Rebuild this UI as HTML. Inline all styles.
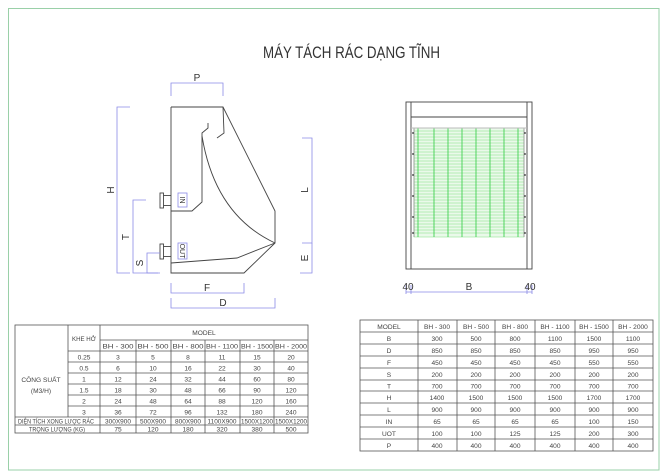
<!DOCTYPE html>
<html><head><meta charset="utf-8"><style>
html,body{margin:0;padding:0;background:#fff}
svg{display:block}
text{font-family:"Liberation Sans",sans-serif;fill:#333}
.t text{font-size:6.6px;text-anchor:middle;fill:#444}
.g{stroke:#555;stroke-width:0.8;fill:none}
.d{stroke:#8a8ae6;stroke-width:0.8;fill:none}
.k{stroke:#444;stroke-width:0.9;fill:none}
</style></head><body>
<svg width="665" height="476" viewBox="0 0 665 476" xmlns="http://www.w3.org/2000/svg">
<rect x="8.5" y="8.5" width="650.5" height="461.5" fill="none" stroke="#9ad0a8" stroke-width="1"/>
<text x="263" y="58" font-size="17" textLength="177" lengthAdjust="spacingAndGlyphs" style="fill:#333">MÁY TÁCH RÁC DẠNG TĨNH</text>

<!-- side view -->
<g class="k">
<polyline points="171,107 223,107 275,211 275,243 244,273 171,273 171,107"/>
<polyline points="223,107 224,133 217,138"/>
<polyline points="208,123 208,128 202,133 202,202 192,211 171,211"/>
<path d="M202,136 Q215,215 275,243"/>
<polyline points="171,263 237,258 275,243"/>
<rect x="160" y="193" width="3.5" height="15"/>
<line x1="163.5" y1="195.5" x2="171" y2="195.5"/><line x1="163.5" y1="205.5" x2="171" y2="205.5"/>
<rect x="160" y="244" width="3.5" height="15"/>
<line x1="163.5" y1="246.5" x2="171" y2="246.5"/><line x1="163.5" y1="256.5" x2="171" y2="256.5"/>
</g>
<g class="d">
<polyline points="171,96 171,83 223,83 223,96"/>
<polyline points="130,107 117,107 117,273 130,273"/>
<polyline points="146,200 133,200 133,273 160,273"/>
<polyline points="160,253 147,253 147,273 158,273"/>
<polyline points="302,138 312,138 312,243 302,243"/>
<polyline points="312,243 312,273 300,273"/>
<polyline points="171,283 171,293 244,293 244,283"/>
<polyline points="171,298 171,308 275,308 275,298"/>
<rect x="178" y="193" width="9" height="14"/>
<rect x="178" y="243" width="9" height="16"/>
</g>
<text x="197" y="81" font-size="10" text-anchor="middle">P</text>
<text x="114" y="190" font-size="10" text-anchor="middle" transform="rotate(-90 114 190)">H</text>
<text x="129" y="237" font-size="10" text-anchor="middle" transform="rotate(-90 129 237)">T</text>
<text x="143" y="263" font-size="10" text-anchor="middle" transform="rotate(-90 143 263)">S</text>
<text x="308" y="190" font-size="10" text-anchor="middle" transform="rotate(-90 308 190)">L</text>
<text x="308" y="258" font-size="10" text-anchor="middle" transform="rotate(-90 308 258)">E</text>
<text x="207" y="291" font-size="10" text-anchor="middle">F</text>
<text x="223" y="306" font-size="10" text-anchor="middle">D</text>
<text x="180" y="200" font-size="7" text-anchor="middle" transform="rotate(90 180 200)">IN</text>
<text x="180" y="251" font-size="7" text-anchor="middle" transform="rotate(90 180 251)">OUT</text>

<!-- front view -->
<g stroke="#7fe07f" stroke-width="0.5">
<rect x="414" y="128" width="110" height="109" fill="#eaf9ea"/>
<line x1="414" y1="131" x2="524" y2="131"/><line x1="414" y1="134" x2="524" y2="134"/><line x1="414" y1="137" x2="524" y2="137"/><line x1="414" y1="140" x2="524" y2="140"/><line x1="414" y1="143" x2="524" y2="143"/><line x1="414" y1="146" x2="524" y2="146"/><line x1="414" y1="149" x2="524" y2="149"/><line x1="414" y1="152" x2="524" y2="152"/><line x1="414" y1="155" x2="524" y2="155"/><line x1="414" y1="158" x2="524" y2="158"/><line x1="414" y1="161" x2="524" y2="161"/><line x1="414" y1="164" x2="524" y2="164"/><line x1="414" y1="167" x2="524" y2="167"/><line x1="414" y1="170" x2="524" y2="170"/><line x1="414" y1="173" x2="524" y2="173"/><line x1="414" y1="176" x2="524" y2="176"/><line x1="414" y1="179" x2="524" y2="179"/><line x1="414" y1="182" x2="524" y2="182"/><line x1="414" y1="185" x2="524" y2="185"/><line x1="414" y1="188" x2="524" y2="188"/><line x1="414" y1="191" x2="524" y2="191"/><line x1="414" y1="194" x2="524" y2="194"/><line x1="414" y1="197" x2="524" y2="197"/><line x1="414" y1="200" x2="524" y2="200"/><line x1="414" y1="203" x2="524" y2="203"/><line x1="414" y1="206" x2="524" y2="206"/><line x1="414" y1="209" x2="524" y2="209"/><line x1="414" y1="212" x2="524" y2="212"/><line x1="414" y1="215" x2="524" y2="215"/><line x1="414" y1="218" x2="524" y2="218"/><line x1="414" y1="221" x2="524" y2="221"/><line x1="414" y1="224" x2="524" y2="224"/><line x1="414" y1="227" x2="524" y2="227"/><line x1="414" y1="230" x2="524" y2="230"/><line x1="414" y1="233" x2="524" y2="233"/>
</g>
<g stroke="#2ecc40" stroke-width="0.8">
<line x1="418" y1="128" x2="418" y2="237"/><line x1="434" y1="128" x2="434" y2="237"/><line x1="448" y1="128" x2="448" y2="237"/><line x1="462" y1="128" x2="462" y2="237"/><line x1="476" y1="128" x2="476" y2="237"/><line x1="490" y1="128" x2="490" y2="237"/><line x1="504" y1="128" x2="504" y2="237"/><line x1="518" y1="128" x2="518" y2="237"/>
</g>
<g class="k">
<rect x="406" y="102" width="126" height="167"/>
<line x1="411" y1="102" x2="411" y2="269"/><line x1="527" y1="102" x2="527" y2="269"/>
<line x1="411" y1="117" x2="527" y2="117"/>
<line x1="414" y1="128" x2="414" y2="237" stroke="#999"/><line x1="524" y1="128" x2="524" y2="237" stroke="#999"/>
</g>
<line x1="411" y1="128" x2="527" y2="128" stroke="#bbb" stroke-width="1"/>
<g fill="#333">
<circle cx="413" cy="133" r="0.9"/><circle cx="413" cy="154" r="0.9"/><circle cx="413" cy="175" r="0.9"/><circle cx="413" cy="196" r="0.9"/><circle cx="413" cy="217" r="0.9"/><circle cx="413" cy="233" r="0.9"/>
<circle cx="525" cy="133" r="0.9"/><circle cx="525" cy="154" r="0.9"/><circle cx="525" cy="175" r="0.9"/><circle cx="525" cy="196" r="0.9"/><circle cx="525" cy="217" r="0.9"/><circle cx="525" cy="233" r="0.9"/>
</g>
<g class="d"><line x1="406" y1="292" x2="532" y2="292"/><line x1="406" y1="285" x2="406" y2="294"/><line x1="411" y1="285" x2="411" y2="294"/><line x1="527" y1="285" x2="527" y2="294"/><line x1="532" y1="285" x2="532" y2="294"/></g>
<text x="408" y="290" font-size="10" text-anchor="middle">40</text>
<text x="469" y="290" font-size="10" text-anchor="middle">B</text>
<text x="530" y="290" font-size="10" text-anchor="middle">40</text>

<!-- left table -->
<g class="g">
<rect x="15" y="325" width="293" height="108"/>
<line x1="100" y1="340" x2="308" y2="340"/>
<line x1="68" y1="351" x2="308" y2="351"/>
<line x1="68" y1="362" x2="308" y2="362"/><line x1="68" y1="373" x2="308" y2="373"/><line x1="68" y1="384" x2="308" y2="384"/><line x1="68" y1="395" x2="308" y2="395"/><line x1="68" y1="406" x2="308" y2="406"/>
<line x1="15" y1="417" x2="308" y2="417"/><line x1="15" y1="425" x2="308" y2="425"/>
<line x1="68" y1="325" x2="68" y2="417"/><line x1="100" y1="325" x2="100" y2="433"/>
<line x1="136" y1="340" x2="136" y2="433"/><line x1="171" y1="340" x2="171" y2="433"/><line x1="205" y1="340" x2="205" y2="433"/><line x1="240" y1="340" x2="240" y2="433"/><line x1="274" y1="340" x2="274" y2="433"/>
</g>
<g class="t">
<text x="204" y="335">MODEL</text>
<text x="84" y="341" textLength="24" lengthAdjust="spacingAndGlyphs">KHE HỞ</text>
<text x="41" y="382">CÔNG SUẤT</text><text x="41" y="393">(M3/H)</text>
<text x="118" y="348.5" textLength="31" lengthAdjust="spacingAndGlyphs">BH - 300</text><text x="153" y="348.5" textLength="31" lengthAdjust="spacingAndGlyphs">BH - 500</text><text x="188" y="348.5" textLength="31" lengthAdjust="spacingAndGlyphs">BH - 800</text><text x="222" y="348.5" textLength="32" lengthAdjust="spacingAndGlyphs">BH - 1100</text><text x="257" y="348.5" textLength="32" lengthAdjust="spacingAndGlyphs">BH - 1500</text><text x="291" y="348.5" textLength="32" lengthAdjust="spacingAndGlyphs">BH - 2000</text>
<text x="84" y="359.5">0.25</text><text x="118" y="359.5">3</text><text x="153" y="359.5">5</text><text x="188" y="359.5">8</text><text x="222" y="359.5">11</text><text x="257" y="359.5">15</text><text x="291" y="359.5">20</text>
<text x="84" y="370.5">0.5</text><text x="118" y="370.5">6</text><text x="153" y="370.5">10</text><text x="188" y="370.5">16</text><text x="222" y="370.5">22</text><text x="257" y="370.5">30</text><text x="291" y="370.5">40</text>
<text x="84" y="381.5">1</text><text x="118" y="381.5">12</text><text x="153" y="381.5">24</text><text x="188" y="381.5">32</text><text x="222" y="381.5">44</text><text x="257" y="381.5">60</text><text x="291" y="381.5">80</text>
<text x="84" y="392.5">1.5</text><text x="118" y="392.5">18</text><text x="153" y="392.5">30</text><text x="188" y="392.5">48</text><text x="222" y="392.5">66</text><text x="257" y="392.5">90</text><text x="291" y="392.5">120</text>
<text x="84" y="403.5">2</text><text x="118" y="403.5">24</text><text x="153" y="403.5">48</text><text x="188" y="403.5">64</text><text x="222" y="403.5">88</text><text x="257" y="403.5">120</text><text x="291" y="403.5">160</text>
<text x="84" y="414.5">3</text><text x="118" y="414.5">36</text><text x="153" y="414.5">72</text><text x="188" y="414.5">96</text><text x="222" y="414.5">132</text><text x="257" y="414.5">180</text><text x="291" y="414.5">240</text>
<text x="56" y="423.5" textLength="76" lengthAdjust="spacingAndGlyphs">DIỆN TÍCH XONG LƯỢC RÁC</text>
<text x="118" y="423.5" textLength="26" lengthAdjust="spacingAndGlyphs">300X900</text><text x="153" y="423.5" textLength="26" lengthAdjust="spacingAndGlyphs">500X900</text><text x="188" y="423.5" textLength="26" lengthAdjust="spacingAndGlyphs">800X900</text><text x="222" y="423.5" textLength="29" lengthAdjust="spacingAndGlyphs">1100X900</text><text x="257" y="423.5" textLength="32" lengthAdjust="spacingAndGlyphs">1500X1200</text><text x="291" y="423.5" textLength="32" lengthAdjust="spacingAndGlyphs">1500X1200</text>
<text x="57" y="431.5" textLength="56" lengthAdjust="spacingAndGlyphs">TRỌNG LƯỢNG (KG)</text><text x="118" y="431.5">75</text><text x="153" y="431.5">120</text><text x="188" y="431.5">180</text><text x="222" y="431.5">320</text><text x="257" y="431.5">380</text><text x="291" y="431.5">500</text>
</g>

<!-- right table -->
<g class="g">
<rect x="360" y="320" width="293" height="131"/>
<line x1="360" y1="332" x2="653" y2="332"/><line x1="360" y1="344" x2="653" y2="344"/><line x1="360" y1="356" x2="653" y2="356"/><line x1="360" y1="368" x2="653" y2="368"/><line x1="360" y1="380" x2="653" y2="380"/><line x1="360" y1="391" x2="653" y2="391"/><line x1="360" y1="403" x2="653" y2="403"/><line x1="360" y1="415" x2="653" y2="415"/><line x1="360" y1="427" x2="653" y2="427"/><line x1="360" y1="439" x2="653" y2="439"/>
<line x1="418" y1="320" x2="418" y2="451"/><line x1="457" y1="320" x2="457" y2="451"/><line x1="495" y1="320" x2="495" y2="451"/><line x1="535" y1="320" x2="535" y2="451"/><line x1="575" y1="320" x2="575" y2="451"/><line x1="613" y1="320" x2="613" y2="451"/>
</g>
<g class="t">
<text x="389" y="329">MODEL</text><text x="437" y="329">BH - 300</text><text x="476" y="329">BH - 500</text><text x="515" y="329">BH - 800</text><text x="555" y="329">BH - 1100</text><text x="594" y="329">BH - 1500</text><text x="633" y="329">BH - 2000</text>
<text x="389" y="341">B</text><text x="437" y="341">300</text><text x="476" y="341">500</text><text x="515" y="341">800</text><text x="555" y="341">1100</text><text x="594" y="341">1500</text><text x="633" y="341">1100</text>
<text x="389" y="353">D</text><text x="437" y="353">850</text><text x="476" y="353">850</text><text x="515" y="353">850</text><text x="555" y="353">850</text><text x="594" y="353">950</text><text x="633" y="353">950</text>
<text x="389" y="365">F</text><text x="437" y="365">450</text><text x="476" y="365">450</text><text x="515" y="365">450</text><text x="555" y="365">450</text><text x="594" y="365">550</text><text x="633" y="365">550</text>
<text x="389" y="377">S</text><text x="437" y="377">200</text><text x="476" y="377">200</text><text x="515" y="377">200</text><text x="555" y="377">200</text><text x="594" y="377">200</text><text x="633" y="377">200</text>
<text x="389" y="388.5">T</text><text x="437" y="388.5">700</text><text x="476" y="388.5">700</text><text x="515" y="388.5">700</text><text x="555" y="388.5">700</text><text x="594" y="388.5">700</text><text x="633" y="388.5">700</text>
<text x="389" y="400">H</text><text x="437" y="400">1400</text><text x="476" y="400">1500</text><text x="515" y="400">1500</text><text x="555" y="400">1500</text><text x="594" y="400">1700</text><text x="633" y="400">1700</text>
<text x="389" y="412">L</text><text x="437" y="412">900</text><text x="476" y="412">900</text><text x="515" y="412">900</text><text x="555" y="412">900</text><text x="594" y="412">900</text><text x="633" y="412">900</text>
<text x="389" y="424">IN</text><text x="437" y="424">65</text><text x="476" y="424">65</text><text x="515" y="424">65</text><text x="555" y="424">65</text><text x="594" y="424">100</text><text x="633" y="424">150</text>
<text x="389" y="436">UOT</text><text x="437" y="436">100</text><text x="476" y="436">100</text><text x="515" y="436">125</text><text x="555" y="436">125</text><text x="594" y="436">200</text><text x="633" y="436">300</text>
<text x="389" y="448">P</text><text x="437" y="448">400</text><text x="476" y="448">400</text><text x="515" y="448">400</text><text x="555" y="448">400</text><text x="594" y="448">400</text><text x="633" y="448">400</text>
</g>
</svg>
</body></html>
